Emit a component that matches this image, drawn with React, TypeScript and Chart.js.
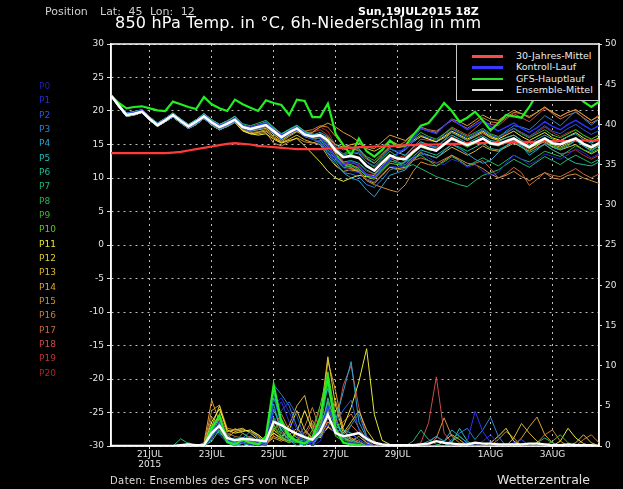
import React, { useEffect, useRef } from 'react';
import { Chart, registerables } from 'chart.js';

Chart.register(...registerables);

// Forecast hours after 19JUL2015 18Z (6-hourly)
const HOURS = [0,6,12,18,24,30,36,42,48,54,60,66,72,78,84,90,96,102,108,114,120,126,132,138,144,150,156,162,168,174,180,186,192,198,204,210,216,222,228,234,240,246,252,258,264,270,276,282,288,294,300,306,312,318,324,330,336,342,348,354,360,366,372,378];

const TICK_HOURS = [30, 78, 126, 174, 222, 294, 342];
const TICK_LABELS: (string | string[])[] = [['21JUL', '2015'], '23JUL', '25JUL', '27JUL', '29JUL', '1AUG', '3AUG'];

// 850 hPa temperature (°C)
const T_MEAN = [22.3,20.8,19.4,19.6,19.9,18.8,17.9,18.6,19.4,18.5,17.7,18.4,19.2,18.3,17.6,18.1,18.7,17.6,17.3,17.6,17.9,17.0,16.1,16.8,17.4,16.5,16.2,16.4,15.6,14.1,13.1,13.3,13.0,11.8,11.1,12.3,13.4,12.9,12.8,13.9,14.8,14.4,14.1,15.0,15.9,15.4,14.9,15.4,15.9,15.2,15.0,15.5,15.9,15.2,14.6,15.3,15.9,15.2,15.0,15.5,15.9,15.1,14.6,15.2];
const T_CLIM = [13.7,13.7,13.7,13.7,13.7,13.7,13.7,13.7,13.8,13.9,14.1,14.3,14.5,14.7,14.9,15.1,15.2,15.1,15.0,14.8,14.7,14.6,14.5,14.4,14.3,14.3,14.3,14.3,14.4,14.4,14.5,14.5,14.6,14.6,14.7,14.7,14.8,14.8,14.9,14.9,15.0,15.0,15.0,15.1,15.1,15.1,15.2,15.2,15.2,15.3,15.3,15.3,15.4,15.4,15.4,15.4,15.5,15.5,15.5,15.5,15.6,15.6,15.6,15.6];
const T_OP = [22.3,21.2,20.4,20.6,20.7,20.4,20.1,20.0,21.4,21.0,20.6,20.3,22.1,21.0,20.4,20.0,21.7,21.0,20.5,20.0,21.6,21.2,20.9,19.4,21.7,21.5,19.1,19.1,21.1,16.6,14.9,13.4,15.9,14.0,13.2,14.2,15.6,14.6,14.8,16.4,17.8,18.2,19.6,21.2,20.0,18.4,19.0,19.9,18.6,17.1,18.2,19.4,19.2,19.0,20.6,22.6,24.2,23.4,23.0,24.0,22.6,21.4,20.6,21.4];

const T_P0 = [22.3,20.9,19.6,19.8,20.1,18.9,18.0,18.8,19.5,18.6,17.8,18.5,19.4,18.5,17.8,18.3,18.9,17.8,17.5,17.9,18.2,17.2,16.4,17.0,17.6,16.7,16.3,16.0,14.8,13.0,12.0,12.5,11.8,10.5,10.2,11.6,12.8,13.6,14.5,15.9,17.4,17.0,16.6,17.8,18.8,18.0,17.2,17.9,18.6,17.7,17.0,17.6,18.2,17.4,16.8,17.5,18.4,17.7,17.2,18.0,18.6,17.9,17.2,17.8];
const T_P1 = [22.3,20.7,19.3,19.5,19.8,18.7,17.8,18.5,19.2,18.3,17.5,18.2,19.0,18.1,17.4,17.9,18.5,17.4,17.1,17.5,17.8,16.8,15.9,16.6,17.2,16.3,15.8,15.5,14.0,12.6,11.5,11.0,10.8,9.8,9.4,10.6,11.8,11.6,11.9,13.0,14.0,13.0,12.3,12.0,12.8,12.4,11.6,12.0,11.0,10.4,10.8,12.2,13.4,12.8,12.0,12.6,13.6,13.2,12.8,13.5,14.4,13.8,13.0,13.6];
const T_P2 = [22.3,20.8,19.5,19.7,20.0,18.9,18.1,18.7,19.5,18.4,17.6,18.3,19.3,18.4,17.5,18.0,18.8,17.7,17.4,17.8,18.0,17.1,16.2,16.9,17.5,16.6,16.3,16.6,15.8,14.6,13.5,13.9,13.8,12.4,11.8,13.0,14.3,14.0,14.2,15.4,16.4,16.0,15.6,16.4,17.3,16.6,16.0,16.6,17.2,16.4,16.0,16.8,17.4,16.8,16.2,17.0,17.8,17.0,16.6,17.4,18.0,17.2,16.5,17.1];
const T_P3 = [22.3,20.6,19.2,19.4,19.8,18.6,17.7,18.4,19.1,18.2,17.4,18.0,18.9,17.9,17.2,17.7,18.3,17.3,17.0,17.3,17.6,16.7,15.8,16.5,17.1,16.2,15.8,15.2,13.6,12.0,10.8,10.6,10.2,9.0,8.6,9.8,11.2,11.6,12.4,13.8,15.0,14.8,14.6,15.7,16.8,16.2,15.6,16.4,17.2,16.4,16.0,17.0,17.8,17.6,17.2,18.2,19.3,18.6,17.8,18.9,20.0,18.9,17.9,18.8];
const T_P4 = [22.3,20.9,19.6,19.8,20.1,18.9,18.0,18.8,19.5,18.6,17.8,18.5,19.4,18.5,17.8,18.3,18.9,17.7,17.4,17.6,17.9,17.0,16.0,16.7,17.3,16.3,15.9,15.4,13.8,12.4,10.8,10.0,9.6,8.2,7.2,8.8,10.4,10.8,11.2,12.6,13.6,13.4,13.0,14.0,15.0,14.4,13.6,12.8,12.2,12.6,13.8,14.8,15.6,14.8,13.4,14.2,15.2,14.6,14.2,14.8,15.6,14.8,14.0,14.8];
const T_P5 = [22.3,20.8,19.5,19.7,20.0,18.9,18.1,18.7,19.5,18.4,17.6,18.3,19.3,18.4,17.5,18.0,18.8,17.6,17.3,17.7,18.1,17.2,16.3,17.0,17.6,16.8,16.4,16.8,16.2,15.0,14.2,14.6,14.4,13.0,12.2,13.2,14.4,13.8,13.4,14.6,15.4,14.9,14.6,15.6,16.4,15.8,15.2,15.8,16.3,15.6,15.4,16.0,16.4,15.6,15.0,15.8,16.4,15.8,15.4,16.2,16.6,15.7,15.2,15.8];
const T_P6 = [22.3,21.0,19.7,19.9,20.2,19.1,18.2,18.9,19.7,18.8,18.0,18.7,19.6,18.7,18.0,18.5,19.2,17.9,17.5,17.9,18.4,17.5,16.6,17.2,17.8,16.9,16.6,16.2,14.6,13.2,12.4,12.6,12.2,11.2,10.6,11.8,13.0,12.4,12.0,13.2,14.2,13.8,13.4,14.2,15.0,14.6,14.0,14.6,15.2,14.4,14.2,14.8,15.4,14.6,13.8,14.4,15.0,14.2,13.6,12.8,12.2,12.0,11.8,12.4];
const T_P7 = [22.3,21.0,19.7,19.9,20.2,19.1,18.2,18.9,19.7,18.8,18.0,18.7,19.6,18.7,18.0,18.5,19.2,18.1,17.8,18.2,18.6,17.6,16.6,17.3,17.9,17.0,16.5,15.8,14.2,12.8,11.6,11.8,11.2,10.4,10.0,11.4,12.6,12.2,11.6,12.0,11.4,10.8,10.2,9.8,9.4,9.0,8.7,9.6,10.4,10.8,11.2,12.0,12.8,12.2,11.6,12.4,13.2,12.6,12.0,12.8,13.4,12.8,12.2,12.8];
const T_P8 = [22.3,20.9,19.6,19.8,20.1,18.9,18.0,18.8,19.5,18.6,17.8,18.5,19.4,18.5,17.8,18.3,18.9,17.8,17.5,17.7,18.0,17.1,16.1,16.7,17.3,16.4,16.0,16.0,15.2,14.0,13.4,13.8,13.6,12.4,11.6,12.8,14.0,13.2,12.4,13.0,13.4,12.6,11.8,12.4,13.2,12.6,11.8,12.4,13.0,12.4,11.8,12.6,13.4,12.8,12.4,13.2,14.0,13.6,13.2,14.0,14.8,14.2,13.8,14.4];
const T_P9 = [22.3,20.7,19.3,19.5,19.8,18.7,17.8,18.5,19.2,18.3,17.5,18.2,19.0,18.1,17.4,17.9,18.5,17.5,17.2,17.5,17.8,16.9,16.0,16.6,17.2,16.3,16.1,16.4,15.4,14.4,13.6,14.2,14.2,13.2,12.6,13.6,14.8,14.6,14.8,15.8,16.8,16.2,15.8,16.6,17.4,16.8,16.2,16.8,17.4,16.6,16.2,16.8,17.4,16.6,16.0,16.6,17.2,16.4,16.0,16.6,17.2,16.4,15.8,16.4];
const T_P10 = [22.3,20.8,19.5,19.7,20.0,18.9,18.1,18.7,19.5,18.4,17.6,18.3,19.3,18.4,17.5,18.0,18.8,17.6,17.4,17.7,18.0,17.1,16.2,16.9,17.5,16.6,16.3,16.5,15.6,13.8,12.2,12.0,11.4,10.2,9.8,11.0,12.2,12.0,12.4,13.6,14.6,14.2,14.0,15.0,15.8,15.2,14.6,15.2,15.8,15.0,14.8,15.4,15.8,15.0,14.4,15.0,15.6,14.8,14.4,15.0,15.6,14.8,14.2,14.8];
const T_P11 = [22.3,20.6,19.2,19.4,19.8,18.6,17.7,18.4,19.1,18.2,17.4,18.0,18.9,17.9,17.2,17.7,18.3,17.1,16.6,16.4,16.6,15.8,15.2,15.6,15.9,14.8,13.6,12.4,11.0,10.0,9.5,10.0,10.4,10.2,10.4,11.8,13.2,13.6,14.2,15.4,16.2,15.8,15.4,16.2,17.0,16.4,15.8,16.4,17.0,16.2,15.8,16.4,17.0,16.2,15.6,16.2,16.8,16.0,15.6,16.2,16.8,16.0,15.4,16.0];
const T_P12 = [22.3,20.7,19.3,19.5,19.8,18.7,17.8,18.5,19.2,18.3,17.5,18.2,19.0,18.1,17.4,17.9,18.5,17.4,17.0,17.2,17.4,16.5,15.6,16.4,17.0,16.2,16.0,16.5,16.0,15.0,14.6,15.0,15.2,14.4,14.0,14.6,15.6,15.0,14.6,15.6,16.4,15.8,15.4,16.0,16.8,16.2,15.6,16.2,16.8,16.0,15.6,16.0,16.4,15.6,14.6,15.0,15.4,14.6,14.2,14.6,15.0,14.2,13.6,14.2];
const T_P13 = [22.3,20.6,19.2,19.4,19.8,18.6,17.7,18.4,19.1,18.2,17.4,18.0,18.9,17.9,17.2,17.7,18.3,17.0,16.6,16.8,17.0,16.0,15.3,15.8,16.4,15.7,15.3,15.0,13.2,11.8,11.0,11.2,11.0,9.8,9.2,10.4,11.6,11.4,11.6,12.8,13.8,13.4,13.0,13.8,14.6,14.0,13.4,14.0,14.8,14.2,14.0,14.6,15.2,14.6,14.0,14.8,15.6,15.0,14.6,15.2,15.8,15.0,14.4,15.0];
const T_P14 = [22.3,20.7,19.3,19.5,19.8,18.7,17.8,18.5,19.2,18.3,17.5,18.2,19.0,18.1,17.4,17.9,18.5,17.2,16.8,16.9,17.2,16.2,15.4,16.2,16.9,16.4,16.8,17.6,18.2,17.6,16.8,16.2,15.4,14.6,14.4,15.4,16.4,16.0,15.6,16.6,17.4,17.0,16.8,17.8,18.8,18.4,17.8,18.6,19.4,18.8,18.6,19.4,20.1,19.6,19.0,19.8,20.6,19.8,19.2,19.8,20.2,19.4,18.6,19.2];
const T_P15 = [22.3,20.6,19.2,19.4,19.8,18.6,17.7,18.4,19.1,18.2,17.4,18.0,18.9,17.9,17.2,17.7,18.3,17.1,16.6,16.6,16.8,15.2,14.8,15.4,16.0,15.4,15.2,15.6,15.4,13.6,12.0,11.6,10.8,9.6,9.0,8.6,8.2,7.9,9.0,11.0,12.4,12.0,11.8,12.6,13.4,12.8,12.2,12.0,11.4,10.6,10.0,10.4,11.0,10.2,9.6,10.2,10.8,10.0,9.8,10.4,10.6,10.0,9.6,9.2];
const T_P16 = [22.3,20.9,19.6,19.8,20.1,18.9,18.0,18.8,19.5,18.6,17.8,18.5,19.4,18.5,17.8,18.3,18.9,17.7,17.4,17.8,18.2,17.3,16.5,17.2,17.8,17.0,17.2,17.8,17.6,16.2,14.8,14.6,14.0,12.8,12.2,13.4,14.6,14.8,15.4,16.6,17.6,17.2,17.0,17.8,18.6,18.0,17.4,18.2,19.0,18.4,18.2,19.0,19.8,19.6,19.2,19.8,20.6,19.6,18.8,19.4,19.8,19.0,18.2,18.8];
const T_P17 = [22.3,20.8,19.5,19.7,20.0,18.9,18.1,18.7,19.5,18.4,17.6,18.3,19.3,18.4,17.5,18.0,18.8,17.5,17.2,17.4,17.7,16.7,15.9,16.5,17.1,16.2,15.8,16.0,14.6,13.0,11.6,11.4,11.0,9.8,9.4,10.4,11.6,11.2,11.4,12.6,13.0,12.6,12.2,12.8,13.4,12.6,11.8,12.2,12.6,11.4,10.0,10.6,11.6,10.8,8.9,9.8,10.8,10.4,10.2,10.8,11.4,10.6,10.0,10.6];
const T_P18 = [22.3,21.0,19.7,19.9,20.2,19.1,18.2,18.9,19.7,18.8,18.0,18.7,19.6,18.7,18.0,18.5,19.2,17.9,17.6,18.0,18.3,17.4,16.5,17.1,17.7,16.8,16.4,16.2,15.0,13.2,12.2,11.8,11.6,10.6,10.0,11.2,12.4,12.6,13.2,14.6,15.8,15.6,15.4,16.6,17.6,17.0,16.4,17.4,18.4,18.0,17.8,18.8,19.6,19.0,18.4,19.4,20.4,19.8,19.2,19.8,20.2,19.4,18.6,19.4];
const T_P19 = [22.3,20.8,19.5,19.7,20.0,18.9,18.1,18.7,19.5,18.4,17.6,18.3,19.3,18.4,17.5,18.0,18.8,17.6,17.3,17.6,17.9,17.0,16.2,16.8,17.4,16.6,16.8,17.2,16.4,14.6,12.2,11.4,11.2,10.6,10.4,11.6,12.8,13.0,13.4,14.6,15.2,14.8,14.4,15.2,16.0,15.4,14.8,15.4,16.0,15.2,14.8,15.2,15.6,14.8,14.2,14.6,15.0,14.2,13.6,13.8,14.2,13.4,12.8,13.4];
const T_P20 = [22.3,21.0,19.7,19.9,20.2,19.1,18.2,18.9,19.7,18.8,18.0,18.7,19.6,18.7,18.0,18.5,19.2,17.8,17.4,17.7,18.0,17.2,16.4,17.0,17.6,16.8,16.9,17.6,17.0,14.8,12.4,12.2,12.0,11.0,10.6,11.8,13.0,12.8,13.0,14.2,15.4,15.0,14.4,15.2,16.2,15.6,15.0,15.8,16.6,16.0,15.8,16.6,17.4,16.8,16.2,16.8,17.6,16.8,16.2,16.8,17.2,16.4,15.8,16.4];

// 6h precipitation (mm)
const R_MEAN = [0,0,0,0,0,0,0,0,0,0.1,0.2,0.1,0.1,1.6,2.5,1.0,0.7,0.9,0.8,0.7,0.6,3.0,2.6,2.0,1.5,1.1,0.8,1.8,3.9,1.6,1.2,1.4,1.6,0.9,0.4,0.2,0.1,0.1,0.1,0.1,0.2,0.3,0.6,0.4,0.3,0.2,0.2,0.4,0.3,0.3,0.2,0.2,0.2,0.2,0.3,0.3,0.2,0.1,0.1,0.2,0.1,0.1,0.1,0];
const R_OP = [0,0,0,0,0,0,0,0, 0,0,0,0,0,2.2,3.8,0.5, 0.2,0.8,0.4,0.2,1.2,7.6,3.0,1.2, 0.6,0.3,1.0,3.5,8.6,2.0,0.4,0.2, 0.1,0,0,0,0,0,0,0, 0,0,0,0,0,0,0,0, 0,0,0,0,0,0,0,0, 0,0,0,0,0,0,0,0];
const R_P0 = [0,0,0,0,0,0,0,0, 0,0,0,0,0,1.5,3.2,0.8, 0.3,0.5,0.8,0.4,0.6,4.2,5.5,3.0, 1.2,0.6,0.4,1.6,5.0,2.4,1.0,1.5, 0.8,0.2,0,0,0,0,0,0, 0,0,0,0,0,0,0.6,4.3, 1.8,0.4,0,0,0,0,0,0, 0,0,0,0,0,0,0,0];
const R_P1 = [0,0,0,0,0,0,0,0, 0,0,0,0,0,1.0,2.4,1.2, 0.6,0.4,0.2,0,0.4,5.0,6.0,4.2, 2.0,0.8,0,0.6,2.8,1.4,0.6,0.4, 0.3,0,0,0,0,0,0,0, 0,0,0,0,0,0,0,0, 0.6,1.4,0.3,0,0,0,0,0, 0,0,0,0,0,0,0,0];
const R_P2 = [0,0,0,0,0,0,0,0, 0,0,0,0,0.2,2.0,1.4,0.4, 0.2,0.8,1.2,0.6,0,3.0,4.4,5.5, 3.8,1.0,0.4,2.2,4.8,2.6,4.5,5.7, 2.0,0.6,0,0,0,0,0,0, 0,0,0,0,0,0,0,0, 0,0,0,0,0.4,0.8,0,0, 0,0,0,0,0,0,0,0];
const R_P3 = [0,0,0,0,0,0,0,0, 0,0,0,0,0,0.8,2.8,0.6, 0,1.0,1.8,1.0,0.6,7.6,6.4,5.0, 2.4,1.0,0,1.4,3.6,1.6,0.8,2.6, 4.0,1.2,0.4,0,0,0,0,0, 0,0,0,0,0.8,1.6,2.2,0.8, 2.0,3.6,1.2,0,0,0,0,0, 0,0,0,0,0,0,0,0];
const R_P4 = [0,0,0,0,0,0,0,0, 0,0,0,0,0,1.8,3.6,1.0, 0.4,0,0.6,0.8,0.4,6.0,3.2,1.4, 0.6,0,0.8,2.4,4.4,3.2,6.8,10.5, 3.0,1.0,0.4,0,0,0,0,0, 0.2,0.6,1.2,0.6,2.0,1.2,0.4,0, 0,0,0,0,0,0,0,0, 0,0,0,0,0,0,0,0];
const R_P5 = [0,0,0,0,0,0,0,0, 0,0,0,0,0,2.2,1.6,0.8, 1.0,0.6,0,0,0.8,4.6,2.0,0.8, 0,0.4,1.2,3.8,7.2,3.0,1.4,0.8, 0.4,0,0,0,0,0,0,0, 0,0,0,0,0.4,2.2,0.6,0, 0,0,0,0,0,0,0,0, 0,0,0,0,0,0,0,0];
const R_P6 = [0,0,0,0,0,0,0,0, 0,0,0,0,0,1.2,2.8,0.4, 0,0.4,0.3,0,1.0,6.8,2.4,1.0, 0.8,0.6,0.4,1.2,6.0,2.4,2.0,1.6, 0.8,0.2,0,0,0,0,0,0, 0,0,0,0,0,0,0,0, 0,0,0,0,0,0,0,0, 0,0,0,0,0,0,0,0];
const R_P7 = [0,0,0,0,0,0,0,0, 0,0.9,0.3,0,0,2.6,1.8,0.6, 0.2,0,0.4,0.6,0.8,5.2,1.6,0.8, 0.6,0,0.8,2.0,7.8,3.0,1.2,0.6, 0.2,0,0,0,0,0,0,0.6, 2.0,0.8,0.2,0,0,0,0,0, 0,0,0,0,0,0,0,0.4, 1.0,0.4,0,0,0,0,0,0];
const R_P8 = [0,0,0,0,0,0,0,0, 0,0,0.4,0,0,1.4,2.2,0.8, 0.4,1.6,0.8,0.2,0,3.6,1.2,0.6, 0.4,0.8,0.4,1.4,5.4,1.8,0.8,0.4, 0,0,0,0,0,0,0,0, 0,0,0,0,0,0,0,0, 0,0,0,0,0,0,0,0, 0,0,0,0,0,0,0,0];
const R_P9 = [0,0,0,0,0,0,0,0, 0,0,0,0,0,1.0,3.0,1.4, 0.6,0.4,0,0.4,0.2,2.6,1.0,0.4, 1.6,0.6,0,2.8,4.2,1.2,0.6,0, 0,0,0,0,0,0,0,0, 0,0,0,0,0.6,1.2,0.4,0, 0,0,0,0,0,0,0,0, 0,0.6,1.4,0.4,0,0,0,0];
const R_P10 = [0,0,0,0,0,0,0,0, 0,0,0,0,0,0.6,2.0,0.4, 0,0.6,1.0,0.6,0.3,2.0,3.4,1.6, 0.6,0.4,2.0,5.0,9.2,3.6,1.0,0.4, 0,0,0,0,0,0,0,0, 0,0,0,0,0,0,0,0, 0,0,0,0,0,0,0,0, 0,0,0,0,0,0,0,0];
const R_P11 = [0,0,0,0,0,0,0,0, 0,0,0,0,0,3.0,4.6,2.0, 1.6,1.8,2.0,1.4,0.6,1.6,1.0,0.6, 1.8,4.4,2.0,1.0,2.4,1.6,2.4,4.8, 8.0,12.1,3.9,0.7,0.2,0,0,0, 0,0,0,0,0,0,0,0, 0,0.4,1.2,2.2,0.6,0,0,0, 0,0,0.6,2.2,1.0,0.3,0,0];
const R_P12 = [0,0,0,0,0,0,0,0, 0,0,0,0,0,2.4,5.0,1.8, 2.0,2.2,1.6,0.8,0.4,2.0,1.2,2.0, 4.4,2.0,1.0,3.4,11.1,5.0,1.6,3.0, 4.4,2.0,0.6,0,0,0,0,0, 0,0,0,0.6,1.4,0.8,0,0, 0,0,0,0,0,0,0,0, 0,0,0,0,0.4,1.4,0.4,0];
const R_P13 = [0,0,0,0,0,0,0,0, 0,0,0,0,0,1.4,3.4,1.0, 1.8,2.0,1.8,1.2,0.4,1.2,0.8,2.6, 5.0,6.3,2.4,1.2,3.0,2.2,1.0,0.6, 1.2,0.4,0,0,0,0,0,0, 0,0,0,0,0,0,0,0, 0,0,0,0,1.0,2.8,1.6,0.6, 0,0,0,0,0,0,0,0];
const R_P14 = [0,0,0,0,0,0,0,0, 0,0,0,0,0.4,5.7,3.0,1.0, 0.6,0.8,1.2,0.6,0.3,1.0,0.6,1.4, 2.2,1.0,0.6,2.0,10.6,6.8,2.0,0.8, 0.4,0,0,0,0,0,0,0, 0,0,0,0,0,0,0,0, 0,0,0,0,0,1.0,2.4,3.6, 1.4,0.4,0,0,0,0,0,0];
const R_P15 = [0,0,0,0,0,0,0,0, 0,0,0,0,0.2,4.4,5.1,2.2, 2.0,2.0,1.8,1.4,0.6,1.6,0.8,0.4, 0.8,1.6,3.2,1.4,2.2,5.6,2.0,1.0, 0.6,0,0,0,0,0,0,0, 0,0,1.0,3.5,1.2,0.4,0,0, 0,0,0.8,1.8,1.0,0,0,0, 0,0,0,0,0,0,0,0];
const R_P16 = [0,0,0,0,0,0,0,0, 0,0,0,0,0,3.6,2.6,1.2, 2.2,1.6,1.0,0.6,0,2.4,4.0,2.0, 1.0,2.4,4.8,2.0,5.6,3.0,1.4,2.6, 1.6,0.4,0,0,0,0,0,0, 0,0,0,0,0,0,0,0, 0,0,0,0,0,0,0,0.4, 1.4,2.0,0.6,0,0,0.8,1.4,0.4];
const R_P17 = [0,0,0,0,0,0,0,0, 0,0,0,0,0,2.0,4.0,1.6, 1.2,1.0,0.8,0.6,0.2,3.4,2.0,0.6, 0.6,1.8,1.0,3.0,4.6,2.4,3.0,4.0, 2.2,0.8,0,0,0,0,0,0, 0,0,0,0,0,0,0,0, 0,0,0,0,0,0,0,0, 0,0,0,0,0,0,0,0];
const R_P18 = [0,0,0,0,0,0,0,0, 0,0,0,0,0,1.6,2.2,0.6, 0.4,0.6,0.4,0,0,1.8,3.2,1.4, 0.6,1.2,2.8,1.4,3.4,2.6,7.6,10.0, 4.8,1.2,0.3,0,0,0,0,0, 0.4,2.9,8.6,1.6,0.4,0,0,0, 0,0,0,0,0,0,0,0, 0,0,0,0,0,0,0,0];
const R_P19 = [0,0,0,0,0,0,0,0, 0,0,0,0,0,1.0,2.6,0.8, 0.6,0.4,0.6,0.3,0,2.2,1.6,0.8, 0.6,0.4,1.0,2.0,3.6,2.0,1.0,0.6, 0.3,0,0,0,0,0,0,0, 0,0,0,0,0,0,0,0, 0,0,0,0,0,0,0,0, 0,0,0,0,0,0,0,0];
const R_P20 = [0,0,0,0,0,0,0,0, 0,0,0,0,0.2,1.2,1.8,0.6, 0,0.4,0.8,0.4,0,1.4,2.6,1.2, 0.6,0.4,1.6,4.6,2.4,1.6,1.2,0.8, 0.4,0,0,0,0,0,0,0, 0,0.4,1.2,0.4,0,0,0,0, 0,0,0,0,0,0,0,0, 0,0,0,0,0,0,0,0];

const MEMBER_NAMES = ['P0','P1','P2','P3','P4','P5','P6','P7','P8','P9','P10','P11','P12','P13','P14','P15','P16','P17','P18','P19','P20'];
const MEMBER_COLORS = ['#3030ff','#2a2ad0','#2c58d8','#2c82d2','#26a4d0','#20bcbc','#20bc98','#20b870','#22b84a','#38b828','#5cc822','#e8e830','#dcca30','#dab432','#dca032','#d28c3a','#ca7a3a','#c26a3a','#cc4a4a','#b83434','#aa2828'];
const LABEL_COLORS = ['#2020a8','#2a2ad0','#2c58d8','#2c82d2','#26a4d0','#20bcbc','#20bc98','#20b870','#22b84a','#38b828','#5cc822','#e8e830','#dcca30','#dab432','#dca032','#d28c3a','#ca7a3a','#c26a3a','#cc4a4a','#b83434','#aa2828'];
const MEMBER_TEMPS = [T_P0,T_P1,T_P2,T_P3,T_P4,T_P5,T_P6,T_P7,T_P8,T_P9,T_P10,T_P11,T_P12,T_P13,T_P14,T_P15,T_P16,T_P17,T_P18,T_P19,T_P20];
const MEMBER_RAIN = [R_P0,R_P1,R_P2,R_P3,R_P4,R_P5,R_P6,R_P7,R_P8,R_P9,R_P10,R_P11,R_P12,R_P13,R_P14,R_P15,R_P16,R_P17,R_P18,R_P19,R_P20];

const LEGEND_ITEMS = [
  { label: '30-Jahres-Mittel', color: '#ff4a4a' },
  { label: 'Kontroll-Lauf', color: '#3a3aff' },
  { label: 'GFS-Hauptlauf', color: '#2ae02a' },
  { label: 'Ensemble-Mittel', color: '#d8d8d8' },
];

const FONT = '"DejaVu Sans", "Liberation Sans", sans-serif';

export default function App() {
  const ref = useRef<HTMLCanvasElement>(null);

  useEffect(() => {
    document.body.style.margin = '0';
    document.body.style.background = '#000';
    const canvas = ref.current;
    if (!canvas) return;

    const mk = (label: string, data: number[], color: string, width: number, axis: string) => ({
      label, data, borderColor: color, backgroundColor: color, borderWidth: width,
      pointRadius: 0, pointHoverRadius: 0, tension: 0, fill: false, yAxisID: axis,
    });

    const datasets: any[] = [];
    datasets.push(mk('Ensemble-Mittel', T_MEAN, '#ffffff', 2.6, 'yT'));
    datasets.push(mk('30-Jahres-Mittel', T_CLIM, '#ff3a3a', 2.2, 'yT'));
    datasets.push(mk('GFS-Hauptlauf', T_OP, '#22ee22', 2.2, 'yT'));
    datasets.push(mk('Ensemble-Mittel NS', R_MEAN, '#ffffff', 2.4, 'yP'));
    datasets.push(mk('GFS-Hauptlauf NS', R_OP, '#22ee22', 2.2, 'yP'));
    MEMBER_NAMES.forEach((n, i) => datasets.push(mk(n, MEMBER_TEMPS[i], MEMBER_COLORS[i], i === 0 ? 1.4 : 1, 'yT')));
    MEMBER_NAMES.forEach((n, i) => datasets.push(mk(n + ' NS', MEMBER_RAIN[i], MEMBER_COLORS[i], 1, 'yP')));

    const frame = {
      id: 'frame',
      beforeDatasetsDraw(chart: any) {
        const { ctx, chartArea: a } = chart;
        ctx.save();
        ctx.strokeStyle = '#ffffff';
        ctx.lineWidth = 1.5;
        ctx.strokeRect(a.left, a.top, a.right - a.left, a.bottom - a.top);
        ctx.restore();
      },
    };

    const tickFont = { family: FONT, size: 9 };

    const chart = new Chart(canvas, {
      type: 'line',
      data: { labels: HOURS, datasets },
      plugins: [frame],
      options: {
        animation: false,
        responsive: false,
        devicePixelRatio: 1,
        events: [],
        layout: { padding: { top: 44, left: 0, right: 0, bottom: 0 } },
        plugins: { legend: { display: false }, tooltip: { enabled: false }, title: { display: false } },
        scales: {
          x: {
            type: 'linear',
            min: 0,
            max: 378,
            afterFit: (s: any) => { s.height = 43; },
            afterBuildTicks: (s: any) => { s.ticks = TICK_HOURS.map((v) => ({ value: v })); },
            ticks: {
              autoSkip: false,
              maxRotation: 0,
              padding: 1,
              color: '#e6e6e6',
              font: { ...tickFont, lineHeight: 1.05 },
              callback: (v: any) => {
                const k = TICK_HOURS.indexOf(Number(v));
                return k >= 0 ? TICK_LABELS[k] : '';
              },
            },
            grid: { color: '#bdbdbd', lineWidth: 1, tickLength: 3, tickColor: '#dddddd', tickBorderDash: [] },
            border: { display: true, color: '#ffffff', width: 1.5, dash: [2, 4] },
          },
          yT: {
            type: 'linear',
            position: 'left',
            min: -30,
            max: 30,
            afterFit: (s: any) => { s.width = 111; },
            ticks: { stepSize: 5, padding: 3, color: '#e6e6e6', font: tickFont },
            grid: { color: '#bdbdbd', lineWidth: 1, tickLength: 4, tickColor: '#dddddd', tickBorderDash: [] },
            border: { display: true, color: '#ffffff', width: 1.5, dash: [2, 4] },
          },
          yP: {
            type: 'linear',
            position: 'right',
            min: 0,
            max: 50,
            afterFit: (s: any) => { s.width = 24; },
            ticks: { stepSize: 5, padding: 3, color: '#e6e6e6', font: tickFont },
            grid: { drawOnChartArea: false, tickLength: 3, tickColor: '#dddddd', tickBorderDash: [] },
            border: { display: true, color: '#ffffff', width: 1.5 },
          },
        },
      } as any,
    });

    return () => chart.destroy();
  }, []);

  const txt = (extra: React.CSSProperties): React.CSSProperties => ({
    position: 'absolute', whiteSpace: 'nowrap', lineHeight: 1, fontFamily: FONT, ...extra,
  });

  return (
    <div style={{ position: 'absolute', left: 0, top: 0, width: 623, height: 489, background: '#000', overflow: 'hidden' }}>
      <canvas ref={ref} width={623} height={489} style={{ position: 'absolute', left: 0, top: 0, width: 623, height: 489 }} />

      <div style={txt({ left: 45, top: 6, fontSize: 11, color: '#cfcfcf' })}>Position</div>
      <div style={txt({ left: 100, top: 6, fontSize: 11, color: '#cfcfcf', wordSpacing: 4 })}>Lat: 45 Lon: 12</div>
      <div style={txt({ left: 358, top: 6, fontSize: 11, fontWeight: 'bold', color: '#ffffff' })}>Sun,19JUL2015 18Z</div>
      <div style={txt({ left: 115, top: 15, fontSize: 16, color: '#ffffff', letterSpacing: 0.2 })}>850 hPa Temp. in °C, 6h-Niederschlag in mm</div>

      {MEMBER_NAMES.map((n, i) => (
        <div key={n} style={txt({ left: 39, top: 82 + i * 14.33, fontSize: 9, color: LABEL_COLORS[i] })}>{n}</div>
      ))}

      <div style={{ position: 'absolute', left: 456, top: 44, width: 143, height: 57, boxSizing: 'border-box', border: '1px solid #c8c8c8', background: '#000' }}>
        {LEGEND_ITEMS.map((it, i) => (
          <React.Fragment key={it.label}>
            <div style={{ position: 'absolute', left: 15, top: 10 + i * 11.3, width: 31, height: 2.5, background: it.color }} />
            <div style={txt({ left: 59, top: 6 + i * 11.3, fontSize: 9.5, color: '#ececec' })}>{it.label}</div>
          </React.Fragment>
        ))}
      </div>

      <div style={txt({ left: 110, top: 476, fontSize: 10, color: '#dcdcdc', letterSpacing: 0.4 })}>Daten: Ensembles des GFS von NCEP</div>
      <div style={txt({ left: 497, top: 474, fontSize: 12.5, color: '#e0e0e0' })}>Wetterzentrale</div>
    </div>
  );
}
